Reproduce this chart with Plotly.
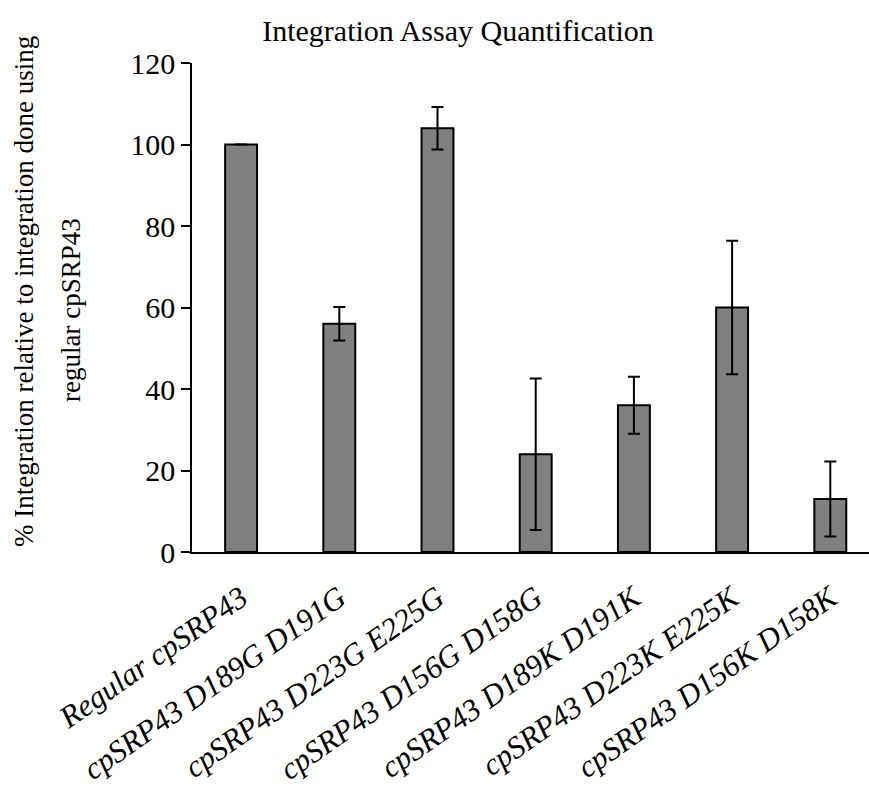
import plotly.graph_objects as go

categories = ["Regular cpSRP43", "cpSRP43 D189G D191G", "cpSRP43 D223G E225G",
              "cpSRP43 D156G D158G", "cpSRP43 D189K D191K", "cpSRP43 D223K E225K",
              "cpSRP43 D156K D158K"]
values = [100, 56, 104, 24, 36, 60, 13]
errors = [None, 4.1, 5.2, 18.6, 7.0, 16.4, 9.2]
y_ticks = [0, 20, 40, 60, 80, 100, 120]
y_title_lines = ["% Integration relative to integration done using", "regular cpSRP43"]

FONT = "Liberation Serif, Times New Roman, serif"

fig = go.Figure(go.Bar(
    x=list(range(len(categories))),
    y=values,
    width=0.325,
    marker=dict(color="#808080", line=dict(color="black", width=2)),
    error_y=dict(type="data", array=errors, visible=True, color="black",
                 thickness=2, width=6),
))

def px_x(p):
    return (p - 192) / 677

def px_y(p):
    return (552 - p) / 489

fig.update_layout(
    width=869, height=797,
    margin=dict(l=192, r=0, t=63, b=245, autoexpand=False),
    plot_bgcolor="white", paper_bgcolor="white",
    showlegend=False,
    title=dict(text="Integration Assay Quantification", x=458/869, xanchor="center",
               y=1 - 30/797, yanchor="middle",
               font=dict(family=FONT, size=30, color="black")),
    font=dict(family=FONT, color="black"),
    xaxis=dict(
        tickmode="array", tickvals=list(range(len(categories))),
        ticktext=["<i>%s</i>" % c for c in categories],
        tickangle=-35, range=[-0.5, 6.394], automargin=False,
        showline=True, linecolor="black", linewidth=1.5,
        ticks="", showgrid=False, zeroline=False, ticklabelstandoff=14,
        tickfont=dict(family=FONT, size=31, color="black"),
    ),
    yaxis=dict(
        range=[0, 120], tickvals=y_ticks, automargin=False,
        showline=True, linecolor="black", linewidth=1.5,
        ticks="outside", ticklen=9, tickwidth=1.5, tickcolor="black",
        showgrid=False, zeroline=False,
        tickfont=dict(family=FONT, size=30, color="black"),
    ),
    annotations=[
        dict(text=y_title_lines[0], xref="paper", yref="paper",
             x=px_x(24), y=px_y(292), xanchor="center", yanchor="middle",
             textangle=-90, showarrow=False,
             font=dict(family=FONT, size=27, color="black")),
        dict(text=y_title_lines[1], xref="paper", yref="paper",
             x=px_x(71), y=px_y(310), xanchor="center", yanchor="middle",
             textangle=-90, showarrow=False,
             font=dict(family=FONT, size=27, color="black")),
    ],
)

fig.write_html("out.html", config={"displayModeBar": False},
               post_script="document.body.style.margin='0';")
